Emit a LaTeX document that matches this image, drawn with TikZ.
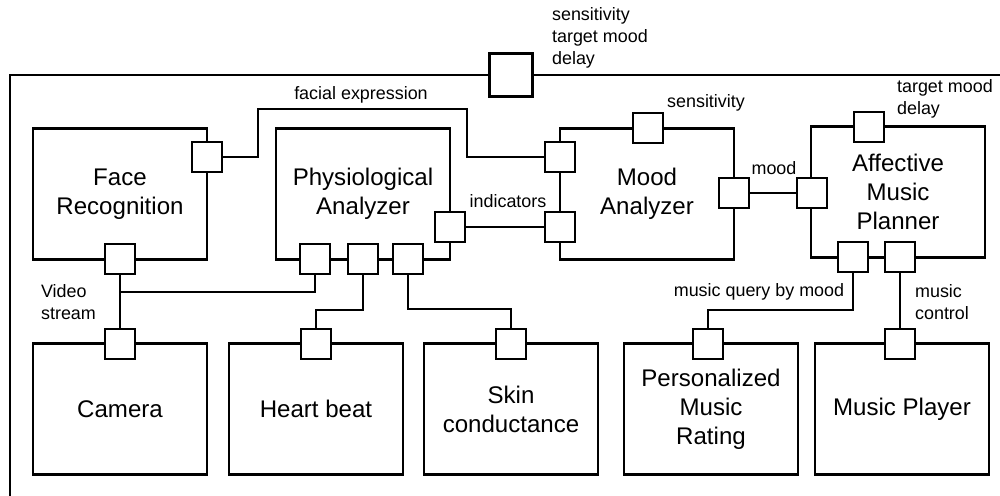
\documentclass[tikz,border=0pt]{standalone}
\usepackage{fontspec}
\setmainfont{Liberation Sans}
\usepackage{tikz}
\begin{document}
\begin{tikzpicture}[x=0.02cm, y=-0.02cm, line width=1.25pt, every node/.style={font=\fontsize{13.7}{16.4}\selectfont}, comp/.style={draw, align=center, minimum width=3.48cm, minimum height=2.62cm, inner sep=0pt}, port/.style={draw, fill=white, minimum size=0.6cm, inner sep=0pt}, lbl/.style={font=\fontsize{10.2}{12.5}\selectfont, align=left, inner sep=0pt}]
\useasboundingbox (0,0) rectangle (1000,495);
\clip (0,0) rectangle (1000,495);
\node[comp] (face) at (120,194) {Face\\Recognition};
\node[comp] (phys) at (363,194) {Physiological\\Analyzer};
\node[comp] (mood) at (647,194) {Mood\\Analyzer};
\node[comp] (plan) at (898,192) {Affective\\Music\\Planner};
\node[comp] (cam) at (120,409) {Camera};
\node[comp] (heart) at (316,409) {Heart beat};
\node[comp] (skin) at (511,409) {Skin\\conductance};
\node[comp] (rate) at (711,409) {Personalized\\Music\\Rating};
\node[comp] (player) at (902,409) {Music Player};
\node[port, minimum size=0.86cm] (sysT) at (511,75) {};
\node[port] (faceR) at (207,157) {}; \node[port] (faceB) at (120,259) {};
\node[port] (physR) at (450,227) {}; \node[port] (physB1) at (315,259) {}; \node[port] (physB2) at (363,259) {}; \node[port] (physB3) at (408,259) {};
\node[port] (moodL1) at (560,157) {}; \node[port] (moodL2) at (560,227) {}; \node[port] (moodT) at (648,128) {}; \node[port] (moodR) at (734,193) {};
\node[port] (planL) at (812,193) {}; \node[port] (planT) at (869,127) {}; \node[port] (planB1) at (853,257) {}; \node[port] (planB2) at (900,257) {};
\node[port] (camT) at (120,344) {}; \node[port] (heartT) at (316,344) {}; \node[port] (skinT) at (511,344) {}; \node[port] (rateT) at (708,344) {}; \node[port] (playT) at (900,344) {};
\coordinate (vsplit) at (120,292);
\draw (sysT.west) -| (10,520); \draw (sysT.east) -- (1020,75);
\draw (faceR.east) -| (258,109) -| (467,157) -- (moodL1.west);
\draw (physR) -- (moodL2); \draw (moodR) -- (planL);
\draw (faceB) -- (camT); \draw (vsplit) -| (physB1.south);
\draw (physB2.south) -- ++(0,35) -| (heartT.north);
\draw (physB3.south) -- ++(0,34) -| (skinT.north);
\draw (planB1.south) -- ++(0,37) -| (rateT.north);
\draw (planB2) -- (playT);
\node[lbl, anchor=west] (sysLbl) at (551,38) {sensitivity\\target mood\\delay};
\node[lbl] (faceLbl) at (361,95) {facial expression};
\node[lbl] (sensLbl) at (706,103) {sensitivity};
\node[lbl, anchor=west] (planLbl) at (896,99) {target mood\\delay};
\node[lbl] (moodLbl) at (774,168) {mood};
\node[lbl] (indLbl) at (508,201) {indicators};
\node[lbl, anchor=west] (videoLbl) at (40,302) {Video\\stream};
\node[lbl] (queryLbl) at (759,292) {music query by mood};
\node[lbl, anchor=west] (ctrlLbl) at (914,302) {music\\control};
\end{tikzpicture}
\end{document}
